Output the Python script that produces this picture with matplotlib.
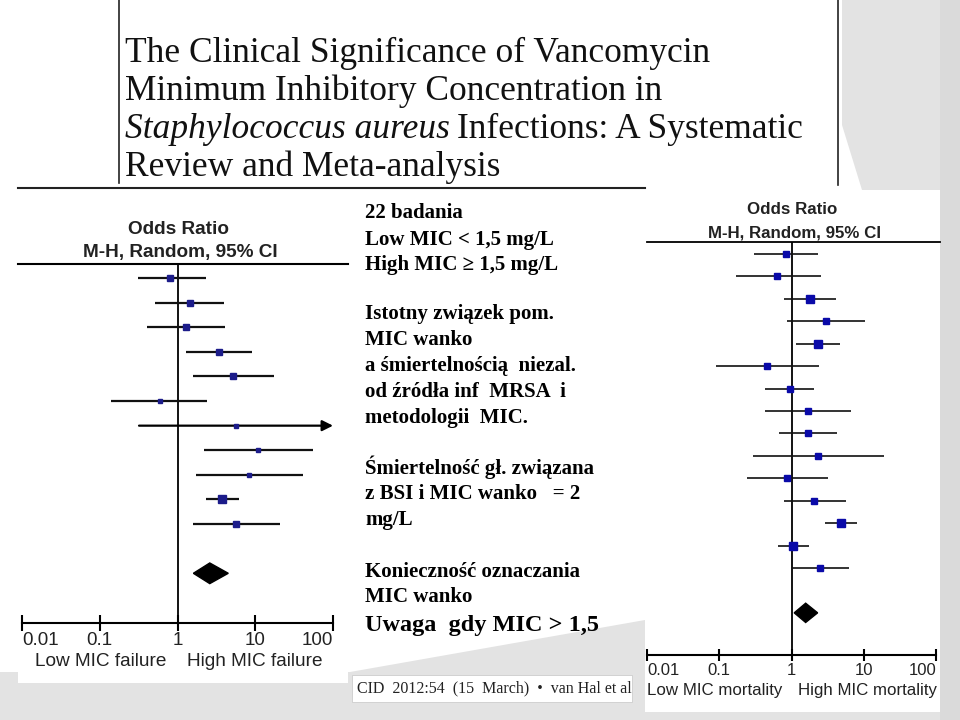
import matplotlib
matplotlib.use('Agg')
import matplotlib.pyplot as plt
from matplotlib.patches import Polygon, Rectangle
from matplotlib.ticker import NullLocator

W, H = 960, 720

# --------------------------
# Data
# --------------------------
# left forest plot: treatment failure (11 studies + pooled)
fail_or = [0.81, 1.43, 1.27, 3.4, 5.1, 0.59, 5.7, 11.0, 8.4, 3.7, 5.7]
fail_lo = [0.31, 0.51, 0.40, 1.27, 1.58, 0.14, 0.32, 2.2, 1.75, 2.3, 1.6]
fail_hi = [2.3, 4.0, 4.1, 9.2, 17.6, 2.4, 150.0, 56.0, 41.0, 6.1, 21.0]
fail_size = [5, 4.5, 4.5, 5, 5, 3.5, 3, 3.5, 3, 6, 4]
fail_pooled = [1.6, 2.6, 4.5]   # lo, estimate, hi

# right forest plot: mortality (15 studies + pooled)
mort_or = [0.83, 0.64, 1.8, 3.0, 2.3, 0.46, 0.94, 1.69, 1.69, 2.35, 0.87, 2.05, 4.8, 1.04, 2.5]
mort_lo = [0.30, 0.17, 0.79, 0.87, 1.17, 0.09, 0.43, 0.43, 0.68, 0.29, 0.24, 0.79, 2.9, 0.65, 1.0]
mort_hi = [2.3, 2.6, 4.1, 10.4, 4.7, 2.4, 2.05, 6.6, 4.2, 19.2, 3.2, 5.6, 8.1, 1.75, 6.2]
mort_size = [4, 4, 5.5, 4, 5.5, 4, 4.5, 4, 4.5, 4, 4.5, 4.5, 5.5, 5.5, 4.5]
mort_pooled = [1.09, 1.57, 2.3]

tick_vals = [0.01, 0.1, 1, 10, 100]
tick_labels = ['0.01', '0.1', '1', '10', '100']

title_lines = [
    'The Clinical Significance of Vancomycin',
    'Minimum Inhibitory Concentration in',
    None,  # italic line built below
    'Review and Meta-analysis',
]

notes = [
    ('22 badania', 213),
    ('Low MIC < 1,5 mg/L', 240),
    ('High MIC \u2265 1,5 mg/L', 265),
    ('Istotny związek pom.', 314),
    ('MIC wanko', 340),
    ('a śmiertelnością  niezal.', 366),
    ('od źródła inf  MRSA  i', 392),
    ('metodologii  MIC.', 418),
    ('Śmiertelność gł. związana', 467),
    ('z BSI i MIC wanko   = 2', 494),
    ('mg/L', 520),
    ('Konieczność oznaczania', 572),
    ('MIC wanko', 597),
]

SERIF = ['Liberation Serif', 'DejaVu Serif']
SANS = ['Liberation Sans', 'DejaVu Sans']
GRAY = '#e3e3e3'


def frac(x0, y0, x1, y1):
    """pixel box (top-left origin) -> figure fraction rect"""
    return [x0 / W, 1 - y1 / H, (x1 - x0) / W, (y1 - y0) / H]


def draw_forest(ax, est, lo, hi, size, pooled, ylim, lw, color, tick_len, label_size, half_h):
    n = len(est)
    rows = list(range(1, n + 1))
    ax.set_xscale('log')
    ax.set_xlim(0.01, 100)
    ax.set_ylim(*ylim)
    ax.set_facecolor('none')
    for s in ['top', 'left', 'right']:
        ax.spines[s].set_visible(False)
    ax.spines['bottom'].set_linewidth(1.5)
    ax.yaxis.set_visible(False)
    ax.axvline(1, color='black', lw=1.3, zorder=1)

    for r, e, l, h, s in zip(rows, est, lo, hi, size):
        if h > 100:
            # CI runs off the axis -> arrow
            ax.annotate('', xy=(100, r), xytext=(l, r),
                        arrowprops=dict(arrowstyle='-|>', color='black', lw=lw,
                                        mutation_scale=16, shrinkA=0, shrinkB=0),
                        annotation_clip=False)
        else:
            ax.plot([l, h], [r, r], color='#111111', lw=lw, zorder=2, solid_capstyle='butt')
        ax.plot(e, r, marker='s', ms=s, color=color, mec=color, zorder=3)

    # pooled diamond
    py = n + 2
    pl, pe, ph = pooled
    ax.add_patch(Polygon([(pl, py), (pe, py - half_h), (ph, py), (pe, py + half_h)],
                         closed=True, facecolor='black', edgecolor='black', zorder=3))

    ax.set_xticks(tick_vals)
    ax.set_xticklabels(tick_labels, fontfamily=SANS, fontsize=label_size, color='#222222')
    ax.xaxis.set_minor_locator(NullLocator())
    ax.tick_params(axis='x', direction='inout', length=tick_len, width=1.5, pad=1)
    lbls = ax.get_xticklabels()
    lbls[0].set_ha('left')
    lbls[-1].set_ha('right')


fig = plt.figure(figsize=(W / 100, H / 100), dpi=100)
fig.patch.set_facecolor('white')

# background canvas in pixel units
bg = fig.add_axes([0, 0, 1, 1])
bg.set_xlim(0, W)
bg.set_ylim(H, 0)
bg.axis('off')

# grey slide swooshes
bg.add_patch(Polygon([(842, 0), (960, 0), (960, 720), (940, 720), (940, 190), (862, 190), (842, 125)],
                     closed=True, facecolor=GRAY, edgecolor='none'))
bg.add_patch(Polygon([(0, 672), (350, 672), (645, 620), (960, 560), (960, 720), (0, 720)],
                     closed=True, facecolor=GRAY, edgecolor='none'))
bg.add_patch(Rectangle((940, 0), 20, 720, facecolor='#dadada', edgecolor='none'))

# white panels
bg.add_patch(Rectangle((18, 187), 330, 496, facecolor='white', edgecolor='none'))
bg.add_patch(Rectangle((645, 190), 295, 522, facecolor='white', edgecolor='none'))
bg.add_patch(Rectangle((352, 675), 280, 27, facecolor='white', edgecolor='#cccccc', lw=0.6))

# title box lines
bg.plot([119, 119], [0, 183], color='#222222', lw=1.2)
bg.plot([838, 838], [0, 185], color='#222222', lw=1.2)
bg.plot([18, 645], [188, 188], color='#222222', lw=1.5)

title_y = [62, 100, 138, 176]
tsize = 25.5
for line, y in zip(title_lines, title_y):
    if line is not None:
        bg.text(125, y, line, fontfamily=SERIF, fontsize=tsize, va='baseline', ha='left', color='#111111')
t_it = bg.text(125, title_y[2], 'Staphylococcus aureus', fontfamily=SERIF, fontsize=tsize,
               style='italic', va='baseline', ha='left', color='#111111')
fig.canvas.draw()
bb = t_it.get_window_extent()
x_after = bb.x1 * W / fig.bbox.width
bg.text(x_after + 7, title_y[2], 'Infections: A Systematic', fontfamily=SERIF, fontsize=tsize,
        va='baseline', ha='left', color='#111111')

# note text in the middle
for txt, y in notes:
    bg.text(365, y, txt, fontfamily=SERIF, fontsize=15, fontweight='bold', va='center', ha='left')
bg.text(365, 625, 'Uwaga  gdy MIC > 1,5', fontfamily=SERIF, fontsize=17.5, fontweight='bold',
        va='center', ha='left')
bg.text(357, 688, 'CID  2012:54  (15  March)  \u2022  van Hal et al', fontfamily=SERIF, fontsize=11.5,
        va='center', ha='left', color='#222222')

# left panel headers
bg.plot([18, 348], [264, 264], color='black', lw=1.5)
bg.text(178, 229, 'Odds Ratio', fontfamily=SANS, fontsize=13.7, fontweight='bold', ha='center', va='center', color='#222222')
bg.text(180, 253, 'M-H, Random, 95% CI', fontfamily=SANS, fontsize=13.7, fontweight='bold', ha='center', va='center', color='#222222')
bg.text(101, 661, 'Low MIC failure', fontfamily=SANS, fontsize=13.7, ha='center', va='center', color='#222222')
bg.text(255, 661, 'High MIC failure', fontfamily=SANS, fontsize=13.7, ha='center', va='center', color='#222222')

# right panel headers
bg.plot([647, 940], [242, 242], color='black', lw=1.3)
bg.text(792, 210, 'Odds Ratio', fontfamily=SANS, fontsize=12.2, fontweight='bold', ha='center', va='center', color='#222222')
bg.text(794, 233, 'M-H, Random, 95% CI', fontfamily=SANS, fontsize=12.2, fontweight='bold', ha='center', va='center', color='#222222')
bg.text(715, 690, 'Low MIC mortality', fontfamily=SANS, fontsize=12.2, ha='center', va='center', color='#222222')
bg.text(868, 690, 'High MIC mortality', fontfamily=SANS, fontsize=12.2, ha='center', va='center', color='#222222')

# forest plots
ax1 = fig.add_axes(frac(22, 264, 333, 623))
draw_forest(ax1, fail_or, fail_lo, fail_hi, fail_size, fail_pooled, (15.02, 0.43),
            lw=1.6, color='#1c1c8a', tick_len=11, label_size=13.5, half_h=0.42)

ax2 = fig.add_axes(frac(647, 242, 936, 655))
draw_forest(ax2, mort_or, mort_lo, mort_hi, mort_size, mort_pooled, (18.88, 0.465),
            lw=1.2, color='#0a0aa8', tick_len=9, label_size=12, half_h=0.43)

fig.savefig('out.png', dpi=100, facecolor='white')
